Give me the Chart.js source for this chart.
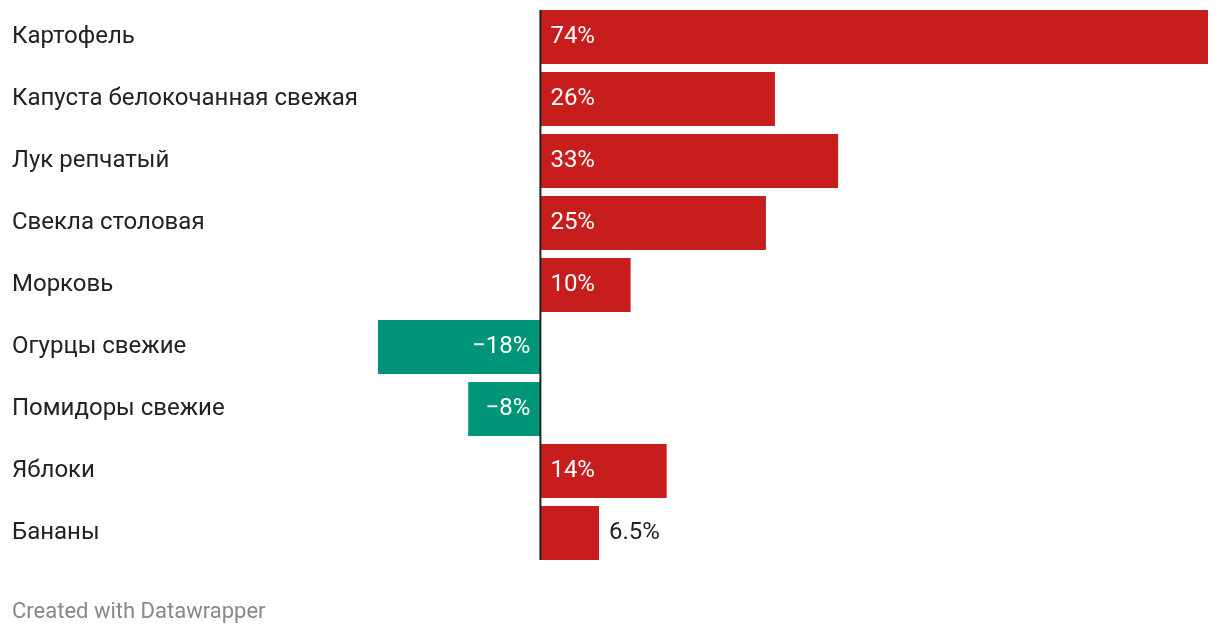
<!DOCTYPE html>
<html lang="ru">
<head>
  <meta charset="UTF-8">
  <title>Цены на овощи и фрукты</title>
  <script src="https://cdn.jsdelivr.net/npm/chart.js"></script>
  <style>
    body {
      margin: 0;
      background: #fff;
      font-family: Roboto, Arial, sans-serif;
    }
    .wrap {
      position: relative;
      width: 1220px;
      height: 636px;
    }
    .footer {
      position: absolute;
      left: 12px;
      top: 598px;
      font-size: 22px;
      color: #888;
    }
  </style>
</head>
<body>
  <div class="wrap">
    <canvas id="chart" width="1220" height="636"></canvas>
    <div class="footer">Created with Datawrapper</div>
  </div>

  <script>
    // Data
    const categories = [
      "Картофель",
      "Капуста белокочанная свежая",
      "Лук репчатый",
      "Свекла столовая",
      "Морковь",
      "Огурцы свежие",
      "Помидоры свежие",
      "Яблоки",
      "Бананы"
    ];
    const changes = [74, 26, 33, 25, 10, -18, -8, 14, 6.5];

    const RED = "#c71e1d";
    const GREEN = "#009479";
    const FONT = "Roboto, Arial, sans-serif";

    const fmt = (v) => (v < 0 ? "\u2212" : "") + Math.abs(v) + "%";

    // value labels + zero line
    const labelPlugin = {
      id: "valueLabels",
      afterDatasetsDraw(chart) {
        const { ctx, chartArea } = chart;
        const xScale = chart.scales.x;
        const meta = chart.getDatasetMeta(0);
        const zero = xScale.getPixelForValue(0);

        ctx.save();
        ctx.font = "24px " + FONT;
        ctx.textBaseline = "middle";
        meta.data.forEach((bar, i) => {
          const v = changes[i];
          const text = fmt(v);
          const tw = ctx.measureText(text).width;
          const barW = Math.abs(bar.x - zero);
          const inside = tw + 20 < barW;
          ctx.fillStyle = inside ? "#fff" : "#222";
          if (v >= 0) {
            ctx.textAlign = "left";
            ctx.fillText(text, inside ? zero + 10 : bar.x + 10, bar.y);
          } else {
            ctx.textAlign = "right";
            ctx.fillText(text, inside ? zero - 10 : bar.x - 10, bar.y);
          }
        });

        ctx.strokeStyle = "#222";
        ctx.lineWidth = 2;
        ctx.beginPath();
        ctx.moveTo(zero, chartArea.top + 4);
        ctx.lineTo(zero, chartArea.bottom - 4);
        ctx.stroke();
        ctx.restore();
      }
    };

    const ctx = document.getElementById("chart").getContext("2d");
    new Chart(ctx, {
      type: "bar",
      data: {
        labels: categories,
        datasets: [{
          data: changes,
          backgroundColor: changes.map((v) => (v < 0 ? GREEN : RED)),
          borderWidth: 0,
          barPercentage: 54 / 62,
          categoryPercentage: 1
        }]
      },
      options: {
        indexAxis: "y",
        responsive: false,
        animation: false,
        layout: {
          padding: { left: 12, right: 12, top: 6, bottom: 72 }
        },
        plugins: {
          legend: { display: false },
          tooltip: { enabled: false }
        },
        scales: {
          x: {
            display: false,
            min: -18,
            max: 74
          },
          y: {
            grid: { display: false },
            border: { display: false },
            ticks: {
              crossAlign: "far",
              padding: 0,
              color: "#222",
              font: { family: FONT, size: 24 }
            },
            afterFit: (scale) => {
              scale.width = 366;
              scale.paddingTop = 0;
              scale.paddingBottom = 0;
            }
          }
        }
      },
      plugins: [labelPlugin]
    });
  </script>
</body>
</html>
